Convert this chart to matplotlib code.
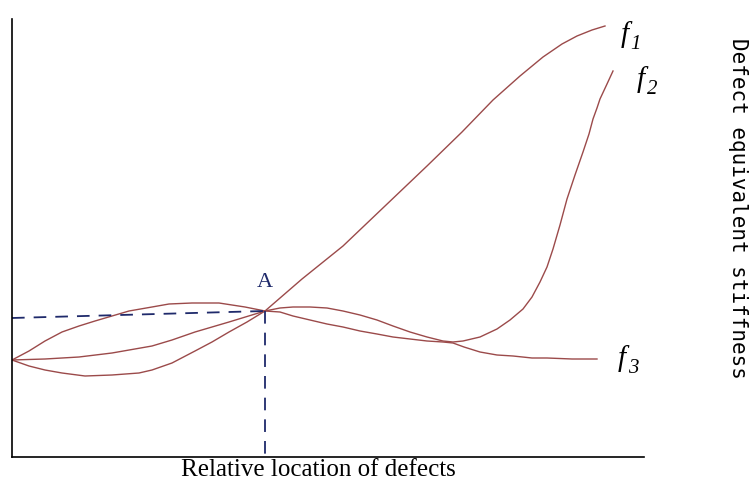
import matplotlib
matplotlib.use("Agg")
import matplotlib.pyplot as plt

# relative location (x) and equivalent stiffness (y), arbitrary units
f1_x = [0, 17, 33, 50, 73, 100, 127, 140, 160, 183, 200, 217, 235, 253,
        290, 331, 373, 415, 450, 481, 508, 531, 550, 565, 580, 593]
f1_y = [97, 91, 87, 84, 81, 82, 84, 87, 94, 106, 115, 125, 135, 146,
        178, 211, 251, 291, 325, 357, 381, 400, 413, 421, 427, 431]

f2_x = [0, 33, 67, 100, 140, 160, 183, 217, 253, 268, 281, 298, 315, 331, 348,
        365, 381, 398, 415, 431, 441, 451, 468, 485, 498, 511, 520, 528, 535,
        541, 548, 555, 563, 571, 577, 581, 585, 588, 595, 601]
f2_y = [97, 98, 100, 104, 111, 117, 125, 135, 146, 149, 150, 150, 149, 146, 142,
        137, 131, 125, 120, 116, 115, 116, 120, 128, 137, 148, 160, 175, 190,
        208, 232, 258, 282, 305, 323, 338, 349, 358, 373, 386]

f3_x = [0, 17, 33, 50, 67, 83, 100, 117, 140, 157, 180, 207, 233, 253, 268, 281,
        298, 315, 331, 348, 365, 381, 398, 415, 431, 441, 452, 468, 485, 501,
        520, 535, 560, 585]
f3_y = [97, 106, 116, 125, 131, 136, 141, 146, 150, 153, 154, 154, 150, 146, 145,
        141, 137, 133, 130, 126, 123, 120, 118, 116, 115, 114, 110, 105, 102,
        101, 99, 99, 98, 98]

label_subs = ['1', '2', '3']
label_pos = [(609, 423), (625, 378), (606, 99)]

point_a = (253, 146)
dash_left_y = 139

curve_color = '#9b4a4a'
navy = '#1f2a6b'

fig = plt.figure(figsize=(7.53, 4.85), dpi=100)
ax = fig.add_axes([12 / 753, 27 / 485, 632 / 753, 438 / 485])

for xs, ys in [(f1_x, f1_y), (f2_x, f2_y), (f3_x, f3_y)]:
    ax.plot(xs, ys, color=curve_color, lw=1.0, solid_joinstyle='round')

# dashed guides to point A
ax.plot([0, point_a[0]], [dash_left_y, point_a[1]], color=navy, lw=1.3,
        dashes=(7, 5))
ax.plot([point_a[0], point_a[0]], [point_a[1], 0], color=navy, lw=1.3,
        dashes=(7, 5))
ax.text(point_a[0], point_a[1] + 20, 'A', color=navy, fontsize=16,
        family='Liberation Serif', ha='center', va='bottom')

# curve labels: italic f with italic subscript
for sub, (lx, ly) in zip(label_subs, label_pos):
    ax.text(lx, ly, 'f', fontsize=21, family='Liberation Serif',
            style='italic', ha='left', va='center')
    ax.annotate(sub, xy=(lx, ly), xytext=(7, -7), textcoords='offset points',
                fontsize=15, family='Liberation Serif', style='italic',
                ha='left', va='center')

ax.set_xlim(0, 632)
ax.set_ylim(0, 438)
ax.set_xticks([])
ax.set_yticks([])
for side in ['top', 'right']:
    ax.spines[side].set_visible(False)
for side in ['left', 'bottom']:
    ax.spines[side].set_linewidth(1.2)

fig.text(318 / 753, 1 - 470 / 485, 'Relative location of defects',
         family='Liberation Serif', fontsize=18, ha='center', va='center')
fig.text(738 / 753, 1 - 208 / 485, 'Defect equivalent stiffness',
         family='DejaVu Sans Mono', fontsize=15, rotation=270,
         ha='center', va='center')

fig.savefig('out.png', dpi=100)
